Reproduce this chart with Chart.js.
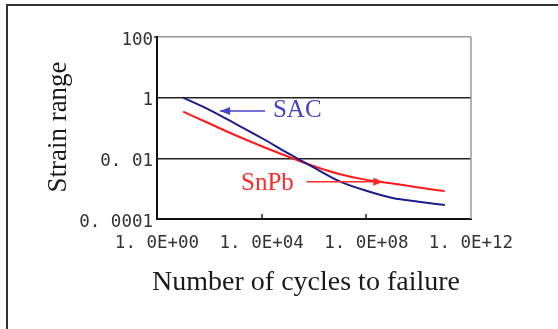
<!DOCTYPE html>
<html>
<head>
<meta charset="utf-8">
<script src="https://cdn.jsdelivr.net/npm/chart.js@4"></script>
<style>
  html, body { margin: 0; padding: 0; background: #fff; }
  canvas { display: block; }
</style>
</head>
<body>
<canvas id="fatigueChart" width="558" height="329"></canvas>
<script>
// fatigue curves, strain range vs cycles to failure (log-log)
const cycles = [1e1, 1e2, 1e3, 1e4, 1e5, 1e6, 1e7, 1e8, 1e9, 1e10, 1e11];
const sacStrain = [1.0, 0.398, 0.138, 0.0468, 0.0148, 0.0049, 0.0017, 0.00085, 0.00049, 0.00037, 0.00029];
const snpbStrain = [0.347, 0.141, 0.0575, 0.0251, 0.0115, 0.0055, 0.0030, 0.00195, 0.00148, 0.0011, 0.00083];

const xTicks = [1e0, 1e4, 1e8, 1e12];
const xTickLabels = ["1. 0E+00", "1. 0E+04", "1. 0E+08", "1. 0E+12"];
const yTicks = [1e-4, 1e-2, 1, 100];
const yTickLabels = ["0. 0001", "0. 01", "1", "100"];

const serif = "'Liberation Serif', 'Times New Roman', serif";
const mono = "'DejaVu Sans Mono', 'Liberation Mono', monospace";

// callouts naming each curve: label anchor and arrow in data units
const callouts = [
  { text: "SAC", color: "#4343c8", at: [10 ** 4.43, 10 ** -0.64], from: [10 ** 4.13, 10 ** -0.44], to: [10 ** 2.41, 10 ** -0.44] },
  { text: "SnPb", color: "#ff2a2a", at: [10 ** 3.21, 10 ** -3.04], from: [10 ** 5.72, 10 ** -2.77], to: [10 ** 8.65, 10 ** -2.77] }
];

const toPoints = (xs, ys) => xs.map((x, i) => ({ x: x, y: ys[i] }));

const decorations = {
  id: "decorations",
  beforeDraw(chart) {
    const { ctx } = chart;
    ctx.save();
    ctx.fillStyle = "#fff";
    ctx.fillRect(0, 0, chart.width, chart.height);
    // outer frame (left and top edges)
    ctx.strokeStyle = "#333";
    ctx.lineWidth = 2;
    ctx.beginPath();
    ctx.moveTo(7, chart.height);
    ctx.lineTo(7, 5);
    ctx.lineTo(chart.width, 5);
    ctx.stroke();
    ctx.restore();
  },
  afterDraw(chart) {
    const { ctx, chartArea: a, scales } = chart;
    const x = scales.x, y = scales.y;
    ctx.save();
    // right edge of plot area
    ctx.strokeStyle = "#999";
    ctx.lineWidth = 1.5;
    ctx.beginPath();
    ctx.moveTo(a.right, a.top);
    ctx.lineTo(a.right, a.bottom);
    ctx.stroke();
    // small inward tick marks on the x axis, short stub at the top of the y axis
    ctx.strokeStyle = "#222";
    ctx.lineWidth = 1.5;
    xTicks.slice(1, -1).forEach(v => {
      const px = Math.round(x.getPixelForValue(v));
      ctx.beginPath();
      ctx.moveTo(px, a.bottom);
      ctx.lineTo(px, a.bottom - 5);
      ctx.stroke();
    });
    ctx.beginPath();
    ctx.moveTo(a.left - 3, a.top);
    ctx.lineTo(a.left, a.top);
    ctx.stroke();
    // axis titles
    ctx.fillStyle = "#1a1a1a";
    ctx.font = "28px " + serif;
    ctx.textAlign = "center";
    ctx.textBaseline = "alphabetic";
    ctx.fillText("Number of cycles to failure", 306, 290);
    ctx.font = "27px " + serif;
    ctx.translate(66, 127);
    ctx.rotate(-Math.PI / 2);
    ctx.fillText("Strain range", 0, 0);
    ctx.setTransform(1, 0, 0, 1, 0, 0);
    // curve callouts
    callouts.forEach(c => {
      const fx = x.getPixelForValue(c.from[0]), fy = y.getPixelForValue(c.from[1]);
      const tx = x.getPixelForValue(c.to[0]), ty = y.getPixelForValue(c.to[1]);
      ctx.strokeStyle = c.color;
      ctx.fillStyle = c.color;
      ctx.lineWidth = 1.5;
      ctx.beginPath();
      ctx.moveTo(fx, fy);
      ctx.lineTo(tx, ty);
      ctx.stroke();
      const dir = Math.sign(tx - fx);
      ctx.beginPath();
      ctx.moveTo(tx, ty);
      ctx.lineTo(tx - dir * 10, ty - 4);
      ctx.lineTo(tx - dir * 10, ty + 4);
      ctx.closePath();
      ctx.fill();
      ctx.font = "25px " + serif;
      ctx.textAlign = "left";
      ctx.fillText(c.text, x.getPixelForValue(c.at[0]), y.getPixelForValue(c.at[1]));
    });
    ctx.restore();
  }
};

new Chart(document.getElementById("fatigueChart"), {
  type: "line",
  data: {
    datasets: [
      {
        label: "SAC",
        data: toPoints(cycles, sacStrain),
        borderColor: "#1c1c8a",
        borderWidth: 2,
        pointRadius: 0,
        cubicInterpolationMode: "monotone"
      },
      {
        label: "SnPb",
        data: toPoints(cycles, snpbStrain),
        borderColor: "#ff1a1a",
        borderWidth: 2,
        pointRadius: 0,
        cubicInterpolationMode: "monotone"
      }
    ]
  },
  options: {
    responsive: false,
    animation: false,
    layout: { padding: { top: 37, right: 87, bottom: 0, left: 0 } },
    plugins: { legend: { display: false }, tooltip: { enabled: false } },
    scales: {
      x: {
        type: "logarithmic",
        min: 1e0,
        max: 1e12,
        afterBuildTicks: s => { s.ticks = xTicks.map(v => ({ value: v })); },
        afterFit: s => { s.height = 110; },
        ticks: {
          autoSkip: false,
          maxRotation: 0,
          padding: 14,
          color: "#333",
          font: { family: mono, size: 17.5 },
          callback: (v, i) => xTickLabels[i]
        },
        grid: { drawOnChartArea: false, drawTicks: false },
        border: { color: "#111", width: 2 }
      },
      y: {
        type: "logarithmic",
        min: 1e-4,
        max: 100,
        afterBuildTicks: s => { s.ticks = yTicks.map(v => ({ value: v })); },
        afterFit: s => { s.width = 157; },
        ticks: {
          padding: 4,
          labelOffset: 3,
          color: "#333",
          font: { family: mono, size: 17.5 },
          callback: (v, i) => yTickLabels[i]
        },
        grid: {
          drawTicks: false,
          lineWidth: 1.5,
          color: c => (c.tick && c.tick.value === 100 ? "#999" : "#222")
        },
        border: { color: "#111", width: 2 }
      }
    }
  },
  plugins: [decorations]
});
</script>
</body>
</html>
